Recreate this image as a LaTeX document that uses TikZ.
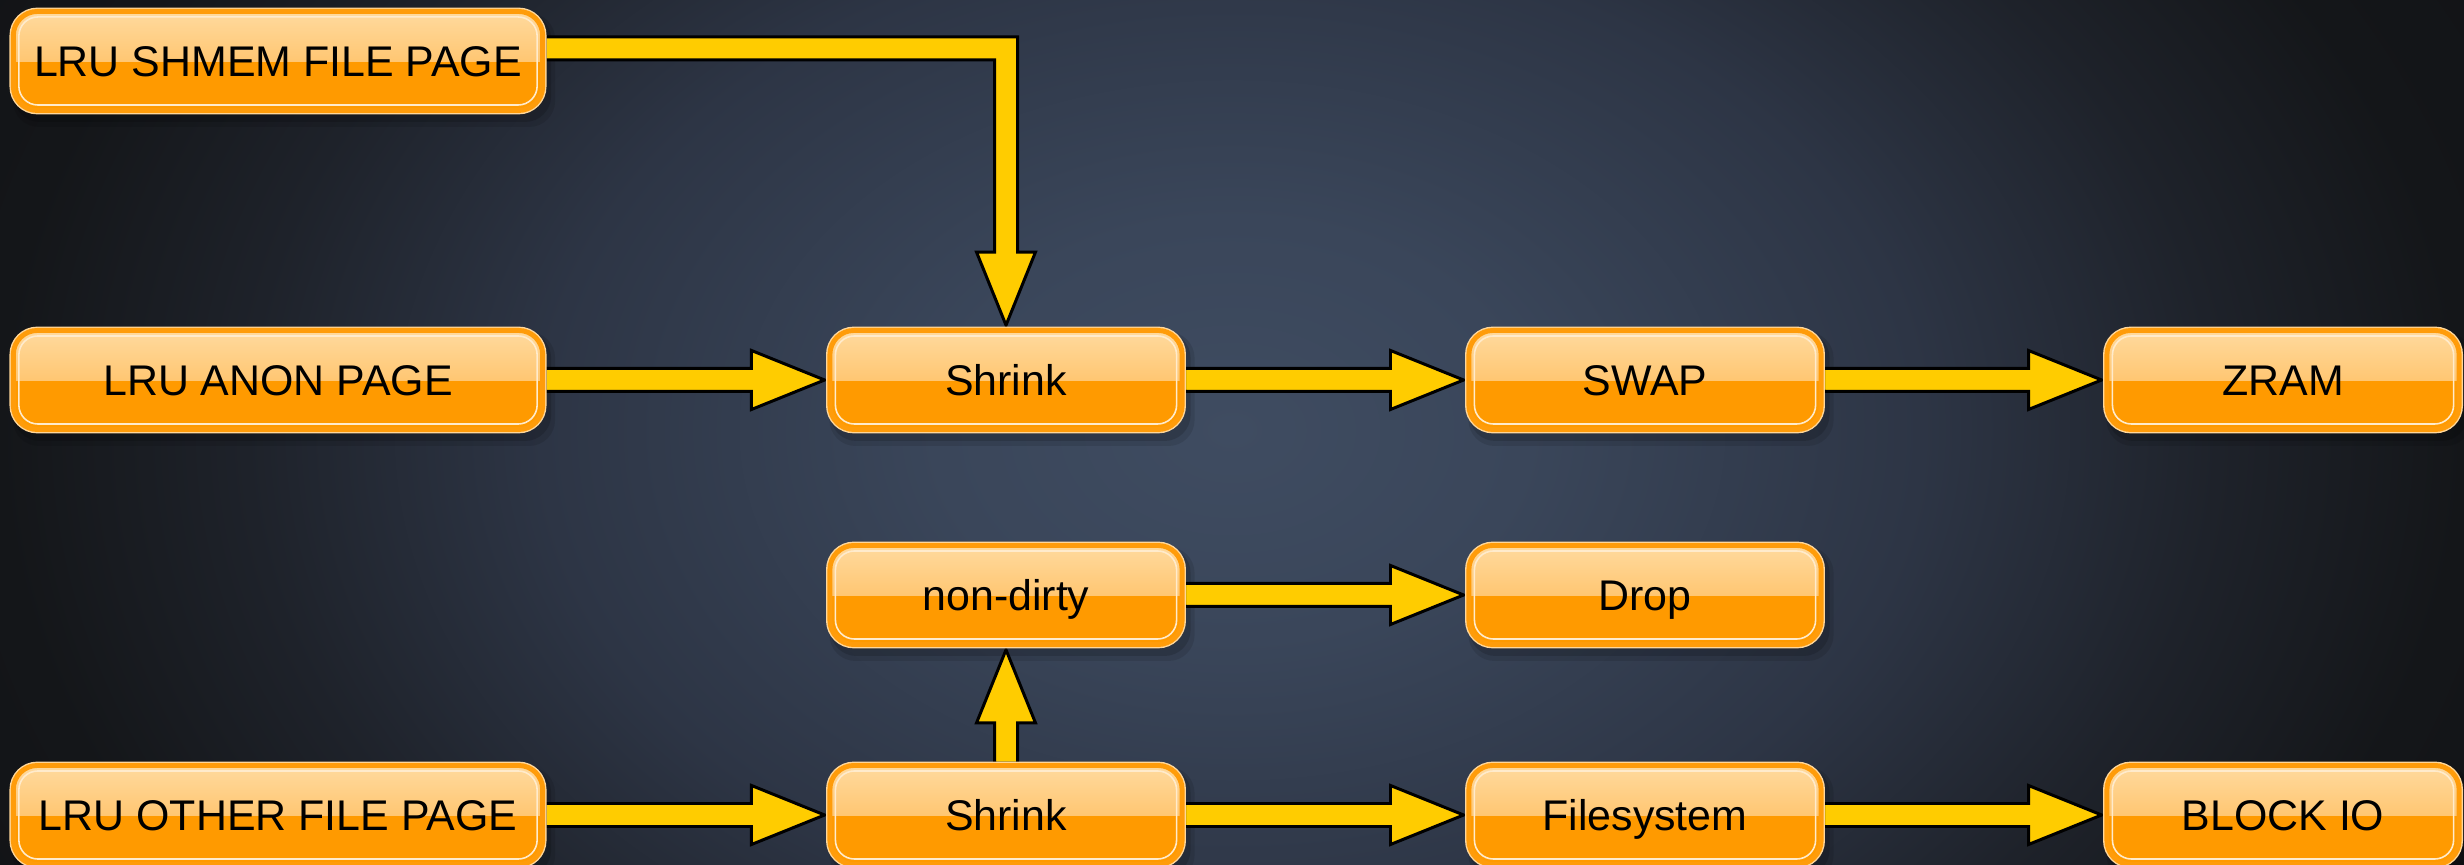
\documentclass[tikz,border=0pt]{standalone}
\usepackage{fontspec}
\setmainfont{Liberation Sans}
\usetikzlibrary{calc}
\definecolor{bgA}{HTML}{3F4C61}
\definecolor{bgB}{HTML}{3A465A}
\definecolor{bgC}{HTML}{2D3545}
\definecolor{bgD}{HTML}{1E222A}
\definecolor{bgE}{HTML}{141619}
\definecolor{bgF}{HTML}{0E0F12}
\definecolor{boxring}{HTML}{FF9C0A}
\definecolor{boxrim}{HTML}{FFD79A}
\definecolor{boxbot}{HTML}{FF9A00}
\definecolor{glossA}{HTML}{FFDA9E}
\definecolor{glossB}{HTML}{FFB347}
\definecolor{boxline}{HTML}{FFEBCC}
\definecolor{arrowyellow}{HTML}{FFCC00}
\pgfdeclareradialshading{bgshade}{\pgfpointorigin}{color(0bp)=(bgA); color(6bp)=(bgB); color(14bp)=(bgC); color(20bp)=(bgD); color(25bp)=(bgE); color(36bp)=(bgF); color(50bp)=(bgF)}
\pgfdeclarelayer{bglayer}
\pgfdeclarelayer{shadowlayer}
\pgfdeclarelayer{arrowlayer}
\pgfsetlayers{bglayer,shadowlayer,arrowlayer,main}
\def\shaftw{3.27pt}
\def\headw{8.39pt}
\def\headl{20.8pt}
\def\tipb{0.8pt}
\newcommand\harrow[2]{%
  \path[blockarrow] let \p1=(#1.east), \p2=(#2.west) in
    (\x1,{\y1+\shaftw}) -- ({\x2-\tipb-\headl},{\y1+\shaftw}) -- ({\x2-\tipb-\headl},{\y1+\headw})
    -- ({\x2-\tipb},\y1) -- ({\x2-\tipb-\headl},{\y1-\headw}) -- ({\x2-\tipb-\headl},{\y1-\shaftw})
    -- (\x1,{\y1-\shaftw}) -- cycle;}
\newcommand\uarrow[2]{%
  \path[blockarrow] let \p1=(#1.north), \p2=(#2.south) in
    ({\x1-\shaftw},\y1) -- ({\x1-\shaftw},{\y2-\tipb-\headl}) -- ({\x1-\headw},{\y2-\tipb-\headl})
    -- (\x1,{\y2-\tipb}) -- ({\x1+\headw},{\y2-\tipb-\headl}) -- ({\x1+\shaftw},{\y2-\tipb-\headl})
    -- ({\x1+\shaftw},\y1) -- cycle;}
\tikzset{
  box/.style={draw=boxring, line width=1.4pt, fill=boxbot, rounded corners=0.24cm,
    inner sep=0pt, minimum height=0.99cm, text height=8.7pt, text depth=0pt,
    font=\fontsize{12.2}{14}\selectfont, text=black,
    preaction={draw=boxrim, line width=2.2pt},
    path picture={
      \fill[sharp corners, top color=glossA, bottom color=glossB]
        (path picture bounding box.north west) rectangle ($(path picture bounding box.east)+(0,-0.01cm)$);
      \draw[draw=boxline, line width=0.45pt, rounded corners=0.19cm]
        ($(path picture bounding box.north west)+(0.055cm,-0.055cm)$) rectangle
        ($(path picture bounding box.south east)+(-0.055cm,0.055cm)$);
    }},
  bigw/.style={minimum width=5.29cm},
  smallw/.style={minimum width=3.52cm},
  blockarrow/.style={fill=arrowyellow, draw=black, line width=0.85pt, line join=miter},
  shadowbox/.style={fill=black, rounded corners=0.26cm}
}
\begin{document}
\begin{tikzpicture}[x=0.01cm,y=-0.01cm]
\useasboundingbox (0,0) rectangle (2464,865);
\begin{pgfonlayer}{bglayer}
  \clip (0,0) rectangle (2464,865);
  \shade[shading=bgshade] (0,-445) rectangle (2464,1305);
\end{pgfonlayer}

\node[box, bigw] (shm) at (278,61) {LRU SHMEM FILE PAGE};
\node[box, bigw] (anon) at (278,380) {LRU ANON PAGE};
\node[box, bigw] (other) at (278,815) {LRU OTHER FILE PAGE};
\node[box, smallw] (shr1) at (1006,380) {Shrink};
\node[box, smallw] (swap) at (1645,380) {SWAP};
\node[box, smallw] (zram) at (2283,380) {ZRAM};
\node[box, smallw] (nond) at (1006,595) {non-dirty};
\node[box, smallw] (drop) at (1645,595) {Drop};
\node[box, smallw] (shr2) at (1006,815) {Shrink};
\node[box, smallw] (fs) at (1645,815) {Filesystem};
\node[box, smallw] (bio) at (2283,815) {BLOCK IO};

\begin{pgfonlayer}{shadowlayer}
  \foreach \n in {shm,anon,other,shr1,swap,zram,nond,drop,shr2,fs,bio}{
    \fill[shadowbox, opacity=0.10] ($(\n.north west)+(2,4)$) rectangle ($(\n.south east)+(10,14)$);
    \fill[shadowbox, opacity=0.14] ($(\n.north west)+(3,4)$) rectangle ($(\n.south east)+(6,9)$);
  }
\end{pgfonlayer}

\begin{pgfonlayer}{arrowlayer}
  \harrow{anon}{shr1}
  \harrow{shr1}{swap}
  \harrow{swap}{zram}
  \harrow{nond}{drop}
  \harrow{other}{shr2}
  \harrow{shr2}{fs}
  \harrow{fs}{bio}
  \uarrow{shr2}{nond}
  \path[blockarrow] let \p1=($(shm.east)+(0,0.125cm)$), \p2=(shr1.north) in
    (\x1,{\y1+\shaftw}) -- ({\x2+\shaftw},{\y1+\shaftw}) -- ({\x2+\shaftw},{\y2+\tipb+\headl})
    -- ({\x2+\headw},{\y2+\tipb+\headl}) -- (\x2,{\y2+\tipb}) -- ({\x2-\headw},{\y2+\tipb+\headl})
    -- ({\x2-\shaftw},{\y2+\tipb+\headl}) -- ({\x2-\shaftw},{\y1-\shaftw}) -- (\x1,{\y1-\shaftw}) -- cycle;
\end{pgfonlayer}
\end{tikzpicture}
\end{document}
